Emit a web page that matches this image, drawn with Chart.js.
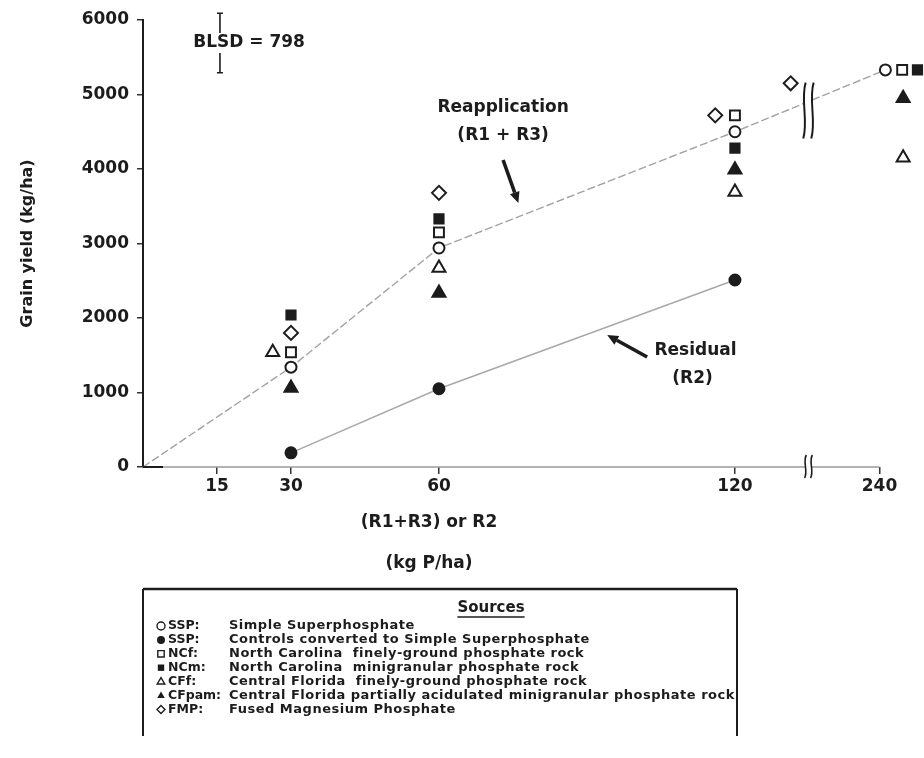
<!DOCTYPE html>
<html>
<head>
<meta charset="utf-8">
<title>Grain yield vs phosphorus rate</title>
<script src="https://cdn.jsdelivr.net/npm/chart.js@4"></script>
<style>
  html, body { margin: 0; padding: 0; background: #fff; }
  #wrap { width: 924px; height: 758px; position: relative; }
</style>
</head>
<body>
<div id="wrap"><canvas id="c" width="924" height="758"></canvas></div>
<script>
// ---- data -------------------------------------------------------------
const doses = [30, 60, 120, 240];               // kg P/ha
const tickDoses = [15, 30, 60, 120, 240];
const yTicks = [0, 1000, 2000, 3000, 4000, 5000, 6000];

// grain yield, kg/ha, one value per dose
const sspYield        = [1340, 2940, 4500, 5330];   // Simple Superphosphate
const controlSspYield = [190, 1050, 2510, null];    // controls converted to SSP (residual)
const ncfYield        = [1540, 3150, 4720, 5330];   // NC finely-ground rock
const ncmYield        = [2040, 3330, 4280, 5330];   // NC minigranular rock
const cffYield        = [1540, 2670, 3690, 4150];   // CF finely-ground rock
const cfpamYield      = [1060, 2335, 3990, 4950];   // CF partially acidulated
const fmpYield        = [1800, 3680, 4720, 5150];   // Fused Magnesium Phosphate

const lsdValue = 798;

const legendCodes = ['SSP:', 'SSP:', 'NCf:', 'NCm:', 'CFf:', 'CFpam:', 'FMP:'];
const legendNames = [
  'Simple Superphosphate',
  'Controls converted to Simple Superphosphate',
  'North Carolina  finely-ground phosphate rock',
  'North Carolina  minigranular phosphate rock',
  'Central Florida  finely-ground phosphate rock',
  'Central Florida partially acidulated minigranular phosphate rock',
  'Fused Magnesium Phosphate'
];

// ---- axis layout ------------------------------------------------------
// 240 kg P/ha lies beyond a broken axis and gets a compressed slot.
const brokenSlot = { 240: 149.3 };
const axisPos = d => (brokenSlot[d] !== undefined ? brokenSlot[d] : d);
const BREAK_AT = 134.9;
const X_MAX = 156.4;

// small sideways shifts (axis units) so coincident symbols stay readable
const sideShift = {
  ssp:   { 240: 1.2 },
  ncf:   { 240: 4.6 },
  ncm:   { 240: 7.7 },
  cff:   { 30: -3.7, 240: 4.8 },
  cfpam: { 240: 4.8 },
  fmp:   { 120: -4.0, 240: -18.0 }
};

const INK = '#1c1c1c';
const FONT = 'DejaVu Sans';

function pointsFor(key, values) {
  const shift = sideShift[key] || {};
  const out = [];
  doses.forEach((d, i) => {
    if (values[i] === null || values[i] === undefined) return;
    out.push({ x: axisPos(d) + (shift[d] || 0), y: values[i] });
  });
  return out;
}

const series = [
  { key: 'ssp',   values: sspYield,        style: 'circle',   filled: false, r: 5.5 },
  { key: 'ctl',   values: controlSspYield, style: 'circle',   filled: true,  r: 5.5 },
  { key: 'ncf',   values: ncfYield,        style: 'rect',     filled: false, r: 7 },
  { key: 'ncm',   values: ncmYield,        style: 'rect',     filled: true,  r: 6.5 },
  { key: 'cff',   values: cffYield,        style: 'triangle', filled: false, r: 7.5 },
  { key: 'cfpam', values: cfpamYield,      style: 'triangle', filled: true,  r: 7.5 },
  { key: 'fmp',   values: fmpYield,        style: 'rectRot',  filled: false, r: 7 }
];

const markerSets = series.map((s, i) => ({
  label: legendNames[i],
  data: pointsFor(s.key, s.values),
  pointStyle: s.style,
  pointRadius: s.r,
  pointBorderWidth: 2,
  pointBackgroundColor: s.filled ? INK : '#ffffff',
  pointBorderColor: INK,
  showLine: false,
  clip: false,
  order: 1
}));

// fitted lines: reapplication through SSP from the origin, residual through controls
const lineSets = [
  {
    label: 'Reapplication (R1 + R3)',
    data: [{ x: 0, y: 0 }].concat(pointsFor('ssp', sspYield)),
    showLine: true, pointRadius: 0, borderColor: '#a2a2a2', borderWidth: 1.4,
    borderDash: [8, 3], clip: false, order: 5
  },
  {
    label: 'Residual (R2)',
    data: pointsFor('ctl', controlSspYield),
    showLine: true, pointRadius: 0, borderColor: '#a8a8a8', borderWidth: 1.4,
    clip: false, order: 5
  }
];

// ---- drawing helpers --------------------------------------------------
function wavy(ctx, x, top, bottom, amp) {
  const h = bottom - top;
  ctx.beginPath();
  ctx.moveTo(x + amp * 0.3, top);
  ctx.bezierCurveTo(x - amp, top + h * 0.3, x + amp, top + h * 0.7, x - amp * 0.3, bottom);
  ctx.stroke();
}

function arrow(ctx, x1, y1, x2, y2, w, headLen, headW) {
  const a = Math.atan2(y2 - y1, x2 - x1);
  const bx = x2 - Math.cos(a) * headLen, by = y2 - Math.sin(a) * headLen;
  ctx.lineWidth = w;
  ctx.beginPath(); ctx.moveTo(x1, y1); ctx.lineTo(bx, by); ctx.stroke();
  ctx.beginPath();
  ctx.moveTo(x2, y2);
  ctx.lineTo(bx + Math.sin(a) * headW, by - Math.cos(a) * headW);
  ctx.lineTo(bx - Math.sin(a) * headW, by + Math.cos(a) * headW);
  ctx.closePath(); ctx.fill();
}

function legendSymbol(ctx, style, filled, x, y, r) {
  ctx.beginPath();
  if (style === 'circle') ctx.arc(x, y, r, 0, Math.PI * 2);
  else if (style === 'rect') ctx.rect(x - r * 0.8, y - r * 0.8, r * 1.6, r * 1.6);
  else if (style === 'triangle') {
    ctx.moveTo(x, y - r); ctx.lineTo(x + r * 0.95, y + r * 0.6); ctx.lineTo(x - r * 0.95, y + r * 0.6); ctx.closePath();
  } else if (style === 'rectRot') {
    ctx.moveTo(x, y - r); ctx.lineTo(x + r, y); ctx.lineTo(x, y + r); ctx.lineTo(x - r, y); ctx.closePath();
  }
  ctx.lineWidth = 1.4;
  if (filled) { ctx.fillStyle = INK; ctx.fill(); }
  else { ctx.fillStyle = '#fff'; ctx.fill(); ctx.strokeStyle = INK; ctx.stroke(); }
}

const decor = {
  id: 'decor',
  afterDatasetsDraw(chart) {
    const { ctx, scales: { x, y } } = chart;
    const px = v => x.getPixelForValue(v), py = v => y.getPixelForValue(v);
    ctx.save();
    ctx.strokeStyle = INK; ctx.fillStyle = INK;

    // x axis line with a break before 240
    const axY = py(0);
    const bx = px(BREAK_AT);
    ctx.strokeStyle = '#9c9c9c'; ctx.lineWidth = 1.4;
    ctx.beginPath(); ctx.moveTo(px(0), axY); ctx.lineTo(bx - 3, axY);
    ctx.moveTo(bx + 3, axY); ctx.lineTo(px(axisPos(240)), axY); ctx.stroke();
    ctx.strokeStyle = INK; ctx.lineWidth = 2;
    ctx.beginPath(); ctx.moveTo(px(0), axY); ctx.lineTo(px(0) + 20, axY); ctx.stroke();
    ctx.lineWidth = 1.6;
    wavy(ctx, bx - 3, axY - 12, axY + 11, 3);
    wavy(ctx, bx + 3, axY - 12, axY + 11, 3);

    // break across the reapplication curve
    const bt = py(5160), bb = py(4410);
    ctx.fillStyle = '#fff';
    ctx.fillRect(bx - 4, bt, 8, bb - bt);
    ctx.strokeStyle = INK; ctx.lineWidth = 2;
    wavy(ctx, bx - 4, bt, bb, 4);
    wavy(ctx, bx + 4, bt, bb, 4);

    // LSD bar and label
    ctx.fillStyle = INK;
    const lsdX = px(15.6), lsdMid = 5691;
    const lt = py(lsdMid + lsdValue / 2), lb = py(lsdMid - lsdValue / 2), lm = py(lsdMid);
    ctx.lineWidth = 1.6;
    ctx.beginPath();
    ctx.moveTo(lsdX - 3, lt); ctx.lineTo(lsdX + 3, lt);
    ctx.moveTo(lsdX, lt); ctx.lineTo(lsdX, lm - 10);
    ctx.moveTo(lsdX, lm + 10); ctx.lineTo(lsdX, lb);
    ctx.moveTo(lsdX - 3, lb); ctx.lineTo(lsdX + 3, lb);
    ctx.stroke();
    ctx.font = `bold 17px "${FONT}"`;
    ctx.textAlign = 'center'; ctx.textBaseline = 'middle';
    ctx.fillText('BLSD = ' + lsdValue, px(21.5), lm);

    // curve labels and arrows
    ctx.fillText('Reapplication', px(73.0), py(4819));
    ctx.fillText('(R1 + R3)', px(73.0), py(4443));
    arrow(ctx, px(73.0), py(4121), px(76.1), py(3544), 3.6, 11, 5);
    ctx.fillText('Residual', px(112.0), py(1557));
    ctx.fillText('(R2)', px(111.4), py(1181));
    arrow(ctx, px(102.2), py(1477), px(94.1), py(1772), 3.6, 11, 5);
    ctx.restore();
  },
  afterDraw(chart) {
    const { ctx } = chart;
    ctx.save();
    ctx.fillStyle = INK; ctx.strokeStyle = INK;

    // x axis title, two lines
    ctx.font = `bold 17px "${FONT}"`;
    ctx.textAlign = 'center'; ctx.textBaseline = 'middle';
    ctx.fillText('(R1+R3) or R2', 429, 523);
    ctx.fillText('(kg P/ha)', 429, 564);

    // sources box
    const L = 143, R = 737, T = 589, B = 736;
    ctx.lineWidth = 2.5;
    ctx.beginPath(); ctx.moveTo(L, T); ctx.lineTo(R, T); ctx.stroke();
    ctx.lineWidth = 2;
    ctx.beginPath(); ctx.moveTo(L, T); ctx.lineTo(L, B); ctx.moveTo(R, T); ctx.lineTo(R, B); ctx.stroke();

    ctx.font = `bold 15px "${FONT}"`;
    ctx.fillText('Sources', 491, 608);
    const sw = ctx.measureText('Sources').width;
    ctx.lineWidth = 1.3;
    ctx.beginPath(); ctx.moveTo(491 - sw / 2, 617); ctx.lineTo(491 + sw / 2, 617); ctx.stroke();

    ctx.textAlign = 'left';
    series.forEach((s, i) => {
      const yy = 626 + i * 13.9;
      legendSymbol(ctx, s.style, s.filled, 161, yy, 4);
      ctx.fillStyle = INK;
      ctx.font = `bold 12.5px "${FONT}"`;
      if ('letterSpacing' in ctx) ctx.letterSpacing = '0px';
      ctx.fillText(legendCodes[i], 168, yy);
      ctx.font = `bold 13px "${FONT}"`;
      if ('letterSpacing' in ctx) ctx.letterSpacing = '0.5px';
      ctx.fillText(legendNames[i], 229, yy);
    });
    ctx.restore();
  }
};

const tickFont = { family: FONT, size: 17, weight: 'bold' };

new Chart(document.getElementById('c'), {
  type: 'scatter',
  data: { datasets: markerSets.concat(lineSets) },
  options: {
    responsive: false,
    animation: false,
    devicePixelRatio: 1,
    layout: { padding: { top: 20, right: 0, bottom: 0, left: 0 } },
    plugins: { legend: { display: false }, tooltip: { enabled: false } },
    scales: {
      x: {
        type: 'linear', min: 0, max: X_MAX,
        afterBuildTicks: s => { s.ticks = tickDoses.map(d => ({ value: axisPos(d) })); },
        afterFit: s => { s.height = 291; s.paddingLeft = 0; s.paddingRight = 0; },
        ticks: {
          callback: (v, i) => String(tickDoses[i]),
          font: tickFont, color: INK, padding: 2, maxRotation: 0, autoSkip: false
        },
        grid: { drawOnChartArea: false, drawTicks: true, tickLength: 7, color: '#333', lineWidth: 1.5 },
        border: { display: false }
      },
      y: {
        min: 0, max: 6000,
        afterBuildTicks: s => { s.ticks = yTicks.map(v => ({ value: v })); },
        afterFit: s => { s.width = 143; },
        ticks: { font: tickFont, color: INK, padding: 8, callback: v => String(v) },
        grid: { drawOnChartArea: false, drawTicks: true, tickLength: 6, color: '#333', lineWidth: 1.5 },
        border: { display: true, color: INK, width: 2 },
        title: {
          display: true, text: 'Grain yield (kg/ha)', color: INK,
          font: { family: FONT, size: 16, weight: 'bold' }, padding: { top: 18, bottom: 0 }
        }
      }
    }
  },
  plugins: [decor]
});
</script>
</body>
</html>
